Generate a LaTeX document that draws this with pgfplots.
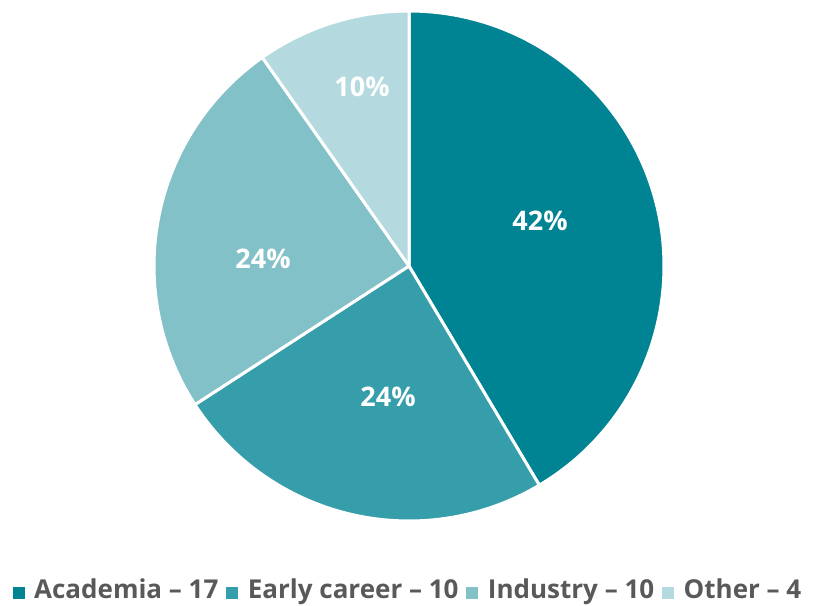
\documentclass[border=0pt]{standalone}
\usepackage{pgfplots}
\pgfplotsset{compat=1.18}
\usepackage{fontspec}
\setmainfont{Open Sans}
\definecolor{acad}{HTML}{008494}
\definecolor{early}{HTML}{369DAA}
\definecolor{indu}{HTML}{83C1C8}
\definecolor{other}{HTML}{B4DAE0}
\definecolor{legtext}{HTML}{595959}
% data: Academia 17, Early career 10, Industry 10, Other 4
\def\va{17}\def\vb{10}\def\vc{10}\def\vd{4}
\pgfmathsetmacro{\tot}{\va+\vb+\vc+\vd}
\pgfmathsetmacro{\aA}{90}
\pgfmathsetmacro{\aB}{90-360*\va/\tot}
\pgfmathsetmacro{\aC}{\aB-360*\vb/\tot}
\pgfmathsetmacro{\aD}{\aC-360*\vc/\tot}
\pgfmathsetmacro{\aE}{\aD-360*\vd/\tot}
\begin{document}
\begin{tikzpicture}
\begin{axis}[
  width=816pt, height=605pt, scale only axis,
  xmin=0, xmax=816, ymin=0, ymax=605,
  axis line style={draw=none}, xtick=\empty, ytick=\empty, clip=false,
  legend columns=4,
  legend style={at={(0.5,16/605)}, anchor=center, draw=none, fill=none,
    font=\bfseries\fontsize{26}{30}\selectfont, text=legtext,
    /tikz/every even column/.append style={column sep=6pt}},
  legend image code/.code={\fill[#1,draw=none] (0pt,-10pt) rectangle (12pt,2pt); \path (18pt,0pt);},
]
\addplot[fill=acad, draw=white, line width=3pt, domain=\aB:\aA, samples=120]
  ({409+255*cos(x)},{339+255*sin(x)}) -- (axis cs:409,339) -- cycle;
\addlegendentry{Academia -- 17}
\addplot[fill=early, draw=white, line width=3pt, domain=\aC:\aB, samples=80]
  ({409+255*cos(x)},{339+255*sin(x)}) -- (axis cs:409,339) -- cycle;
\addlegendentry{Early career -- 10}
\addplot[fill=indu, draw=white, line width=3pt, domain=\aD:\aC, samples=80]
  ({409+255*cos(x)},{339+255*sin(x)}) -- (axis cs:409,339) -- cycle;
\addlegendentry{Industry -- 10}
\addplot[fill=other, draw=white, line width=3pt, domain=\aE:\aD, samples=40]
  ({409+255*cos(x)},{339+255*sin(x)}) -- (axis cs:409,339) -- cycle;
\addlegendentry{Other -- 4}
\begin{scope}[every node/.style={text=white, font=\bfseries\fontsize{27}{30}\selectfont}]
\node at (axis cs:540,384) {42\%};
\node at (axis cs:388,208) {24\%};
\node at (axis cs:263,346) {24\%};
\node at (axis cs:362,518) {10\%};
\end{scope}
\end{axis}
\end{tikzpicture}
\end{document}
